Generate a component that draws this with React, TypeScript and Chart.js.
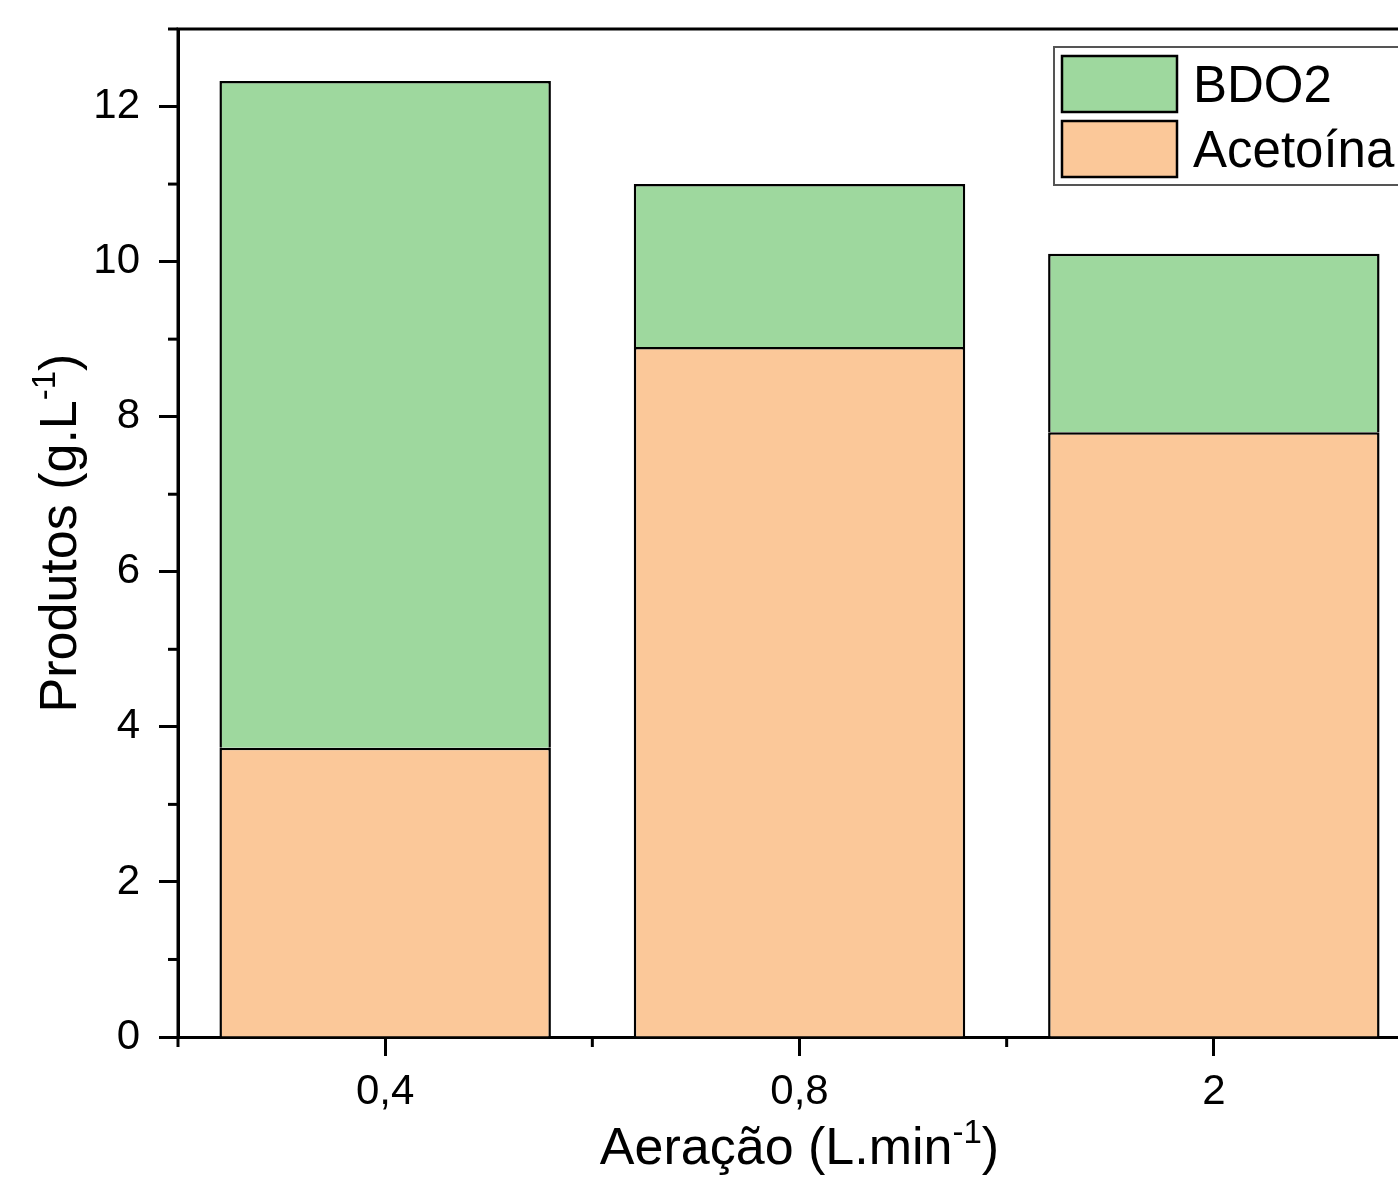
import React, { useEffect, useRef } from 'react';
import { Chart, registerables } from 'chart.js';

Chart.register(...registerables);

const categories = ['0,4', '0,8', '2'];
const acetoinaValues = [3.73, 8.9, 7.8];
const bdo2Values = [8.6, 2.1, 2.3];
const seriesNames = ['Acetoína', 'BDO2'];
const seriesColors = ['#FBC899', '#9ED89E'];
const xTitleParts = ['Aeração (L.min', '-1', ')'];
const yTitleParts = ['Produtos (g.L', '-1', ')'];
const yMin = 0;
const yMax = 13;
const yMajorStep = 2;
const yMinorValues = [1, 3, 5, 7, 9, 11, 13];

const FONT = '"Liberation Sans", Arial, Helvetica, sans-serif';
const CANVAS_W = 1440;
const CANVAS_H = 1179;

function drawSupTitle(ctx: CanvasRenderingContext2D, parts: string[], cx: number, baseY: number) {
  const mainSize = 52;
  const supSize = 33;
  const supShift = 21;
  const fonts = [`${mainSize}px ${FONT}`, `${supSize}px ${FONT}`, `${mainSize}px ${FONT}`];
  const widths = parts.map((p, i) => {
    ctx.font = fonts[i];
    return ctx.measureText(p).width;
  });
  const total = widths.reduce((a, b) => a + b, 0);
  let x = cx - total / 2;
  ctx.fillStyle = '#000';
  ctx.textAlign = 'left';
  ctx.textBaseline = 'alphabetic';
  parts.forEach((p, i) => {
    ctx.font = fonts[i];
    ctx.fillText(p, x, i === 1 ? baseY - supShift : baseY);
    x += widths[i];
  });
}

const decorPlugin = {
  id: 'decor',
  afterDraw(chart: any) {
    const ctx: CanvasRenderingContext2D = chart.ctx;
    const { left, right, top, bottom } = chart.chartArea;
    const xs = chart.scales.x;
    const ys = chart.scales.y;
    ctx.save();
    ctx.strokeStyle = '#000';
    ctx.lineWidth = 3;
    ctx.beginPath();
    ctx.moveTo(left, bottom);
    ctx.lineTo(left, top);
    ctx.lineTo(right, top);
    ctx.lineTo(right, bottom);
    ctx.stroke();

    // minor y ticks
    ctx.lineWidth = 3;
    yMinorValues.forEach((v) => {
      const y = ys.getPixelForValue(v);
      ctx.beginPath();
      ctx.moveTo(left - 10, y);
      ctx.lineTo(left, y);
      ctx.stroke();
    });
    // minor x ticks at category boundaries
    for (let i = 0; i <= categories.length; i++) {
      const x = xs.getPixelForValue(i - 0.5);
      ctx.beginPath();
      ctx.moveTo(x, bottom);
      ctx.lineTo(x, bottom + 10);
      ctx.stroke();
    }

    // axis titles
    drawSupTitle(ctx, xTitleParts, (left + right) / 2, 1164);
    ctx.save();
    ctx.translate(76, (top + bottom) / 2);
    ctx.rotate(-Math.PI / 2);
    drawSupTitle(ctx, yTitleParts, 0, 0);
    ctx.restore();

    // legend
    const lx = left + 876;
    const ly = top + 18;
    const boxW = 500;
    const boxH = 138;
    ctx.fillStyle = '#fff';
    ctx.fillRect(lx, ly, boxW, boxH);
    ctx.strokeStyle = '#555';
    ctx.lineWidth = 2;
    ctx.strokeRect(lx, ly, boxW, boxH);
    const ds = chart.data.datasets;
    const order = [...ds.keys()].reverse();
    order.forEach((di, row) => {
      const d = ds[di];
      const sy = ly + 9 + row * 65;
      ctx.fillStyle = d.backgroundColor;
      ctx.fillRect(lx + 8, sy, 115, 56);
      ctx.strokeStyle = '#000';
      ctx.lineWidth = 2.5;
      ctx.strokeRect(lx + 8, sy, 115, 56);
      ctx.fillStyle = '#000';
      ctx.font = `51px ${FONT}`;
      ctx.textAlign = 'left';
      ctx.textBaseline = 'alphabetic';
      ctx.fillText(d.label, lx + 139, sy + 46);
    });
    ctx.restore();
  },
};

export default function App() {
  const ref = useRef<HTMLCanvasElement | null>(null);
  useEffect(() => {
    if (!ref.current) return;
    const chart = new Chart(ref.current, {
      type: 'bar',
      data: {
        labels: categories,
        datasets: [
          {
            label: seriesNames[0],
            data: acetoinaValues,
            backgroundColor: seriesColors[0],
            borderColor: '#000',
            borderWidth: 2.5,
            borderSkipped: 'start',
          },
          {
            label: seriesNames[1],
            data: bdo2Values,
            backgroundColor: seriesColors[1],
            borderColor: '#000',
            borderWidth: 2.5,
            borderSkipped: 'start',
          },
        ],
      },
      options: {
        responsive: false,
        animation: false,
        devicePixelRatio: 1,
        layout: { padding: { top: 29, left: 0, right: CANVAS_W - 1421, bottom: 0 } },
        plugins: { legend: { display: false }, tooltip: { enabled: false } },
        datasets: { bar: { barPercentage: 0.8, categoryPercentage: 1.0 } },
        scales: {
          x: {
            stacked: true,
            offset: true,
            grid: {
              display: true,
              offset: false,
              drawOnChartArea: false,
              drawTicks: true,
              tickLength: 19,
              tickWidth: 3,
              tickColor: '#000',
            },
            border: { display: true, width: 3, color: '#000' },
            ticks: { color: '#000', font: { family: FONT, size: 42 }, padding: 11, maxRotation: 0 },
            afterFit: (s: any) => {
              s.height = CANVAS_H - 1037;
              s.paddingLeft = 0;
              s.paddingRight = 0;
            },
          },
          y: {
            stacked: true,
            min: yMin,
            max: yMax,
            grid: {
              display: true,
              drawOnChartArea: false,
              drawTicks: true,
              tickLength: 19,
              tickWidth: 3,
              tickColor: '#000',
            },
            border: { display: true, width: 3, color: '#000' },
            ticks: {
              stepSize: yMajorStep,
              includeBounds: false,
              color: '#000',
              font: { family: FONT, size: 42 },
              padding: 19,
            },
            afterFit: (s: any) => {
              s.width = 178;
              s.paddingTop = 0;
              s.paddingBottom = 0;
            },
          },
        },
      },
      plugins: [decorPlugin],
    });
    return () => chart.destroy();
  }, []);
  return (
    <div style={{ position: 'fixed', left: 0, top: 0, width: 1398, height: 1179, overflow: 'hidden', background: '#fff' }}>
      <canvas ref={ref} width={CANVAS_W} height={CANVAS_H} style={{ width: CANVAS_W, height: CANVAS_H, display: 'block' }} />
    </div>
  );
}
